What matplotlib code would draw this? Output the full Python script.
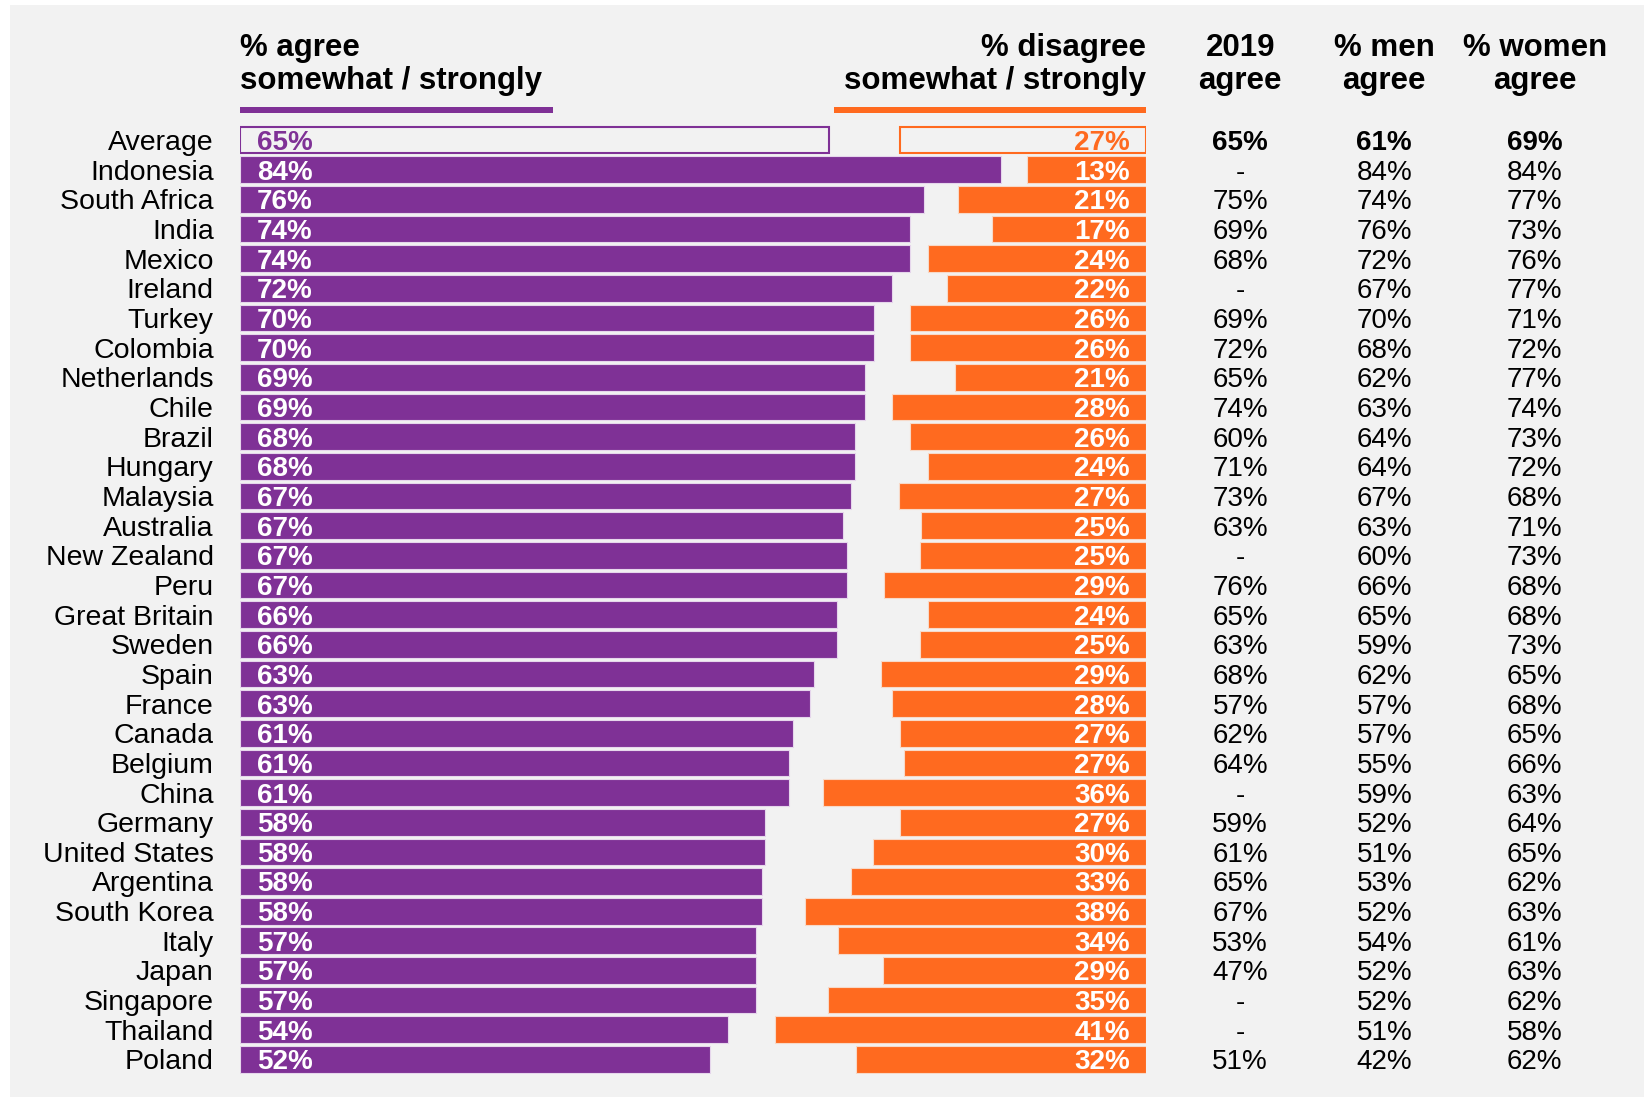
import matplotlib.pyplot as plt
from matplotlib.patches import Rectangle

plt.rcParams['font.family'] = ['Liberation Sans', 'DejaVu Sans']

countries = ["Average", "Indonesia", "South Africa", "India", "Mexico", "Ireland", "Turkey",
             "Colombia", "Netherlands", "Chile", "Brazil", "Hungary", "Malaysia", "Australia",
             "New Zealand", "Peru", "Great Britain", "Sweden", "Spain", "France", "Canada",
             "Belgium", "China", "Germany", "United States", "Argentina", "South Korea", "Italy",
             "Japan", "Singapore", "Thailand", "Poland"]

# bar lengths, labels are the rounded values
agree = [65.0, 84.0, 75.5, 73.9, 73.9, 72.0, 70.0, 70.0, 69.0, 69.0, 67.9, 67.9, 67.4, 66.6,
         67.0, 67.0, 65.9, 65.9, 63.4, 62.9, 61.0, 60.6, 60.6, 58.0, 58.0, 57.6, 57.6, 56.9,
         56.9, 56.9, 53.9, 51.9]
disagree = [27.1, 13.1, 20.8, 17.0, 24.1, 22.0, 26.0, 26.0, 21.1, 28.0, 26.0, 24.1, 27.3, 24.8,
            25.0, 28.9, 24.1, 25.0, 29.3, 28.0, 27.1, 26.7, 35.6, 27.1, 30.1, 32.6, 37.6, 34.0,
            29.0, 35.1, 41.0, 32.0]
agree_2019 = ["65%", "-", "75%", "69%", "68%", "-", "69%", "72%", "65%", "74%", "60%", "71%",
              "73%", "63%", "-", "76%", "65%", "63%", "68%", "57%", "62%", "64%", "-", "59%",
              "61%", "65%", "67%", "53%", "47%", "-", "-", "51%"]
men_agree = ["61%", "84%", "74%", "76%", "72%", "67%", "70%", "68%", "62%", "63%", "64%", "64%",
             "67%", "63%", "60%", "66%", "65%", "59%", "62%", "57%", "57%", "55%", "59%", "52%",
             "51%", "53%", "52%", "54%", "52%", "52%", "51%", "42%"]
women_agree = ["69%", "84%", "77%", "73%", "76%", "77%", "71%", "72%", "77%", "74%", "73%", "72%",
               "68%", "71%", "73%", "68%", "68%", "73%", "65%", "68%", "65%", "66%", "63%", "64%",
               "65%", "62%", "63%", "61%", "63%", "62%", "58%", "62%"]

PURPLE = '#7f3196'
ORANGE = '#ff6a1f'
BG = '#f2f2f2'

fig = plt.figure(figsize=(16.44, 10.97), dpi=100)
fig.patch.set_facecolor('white')
fig.patches.append(Rectangle((10 / 1644, 0), 1, 1 - 5 / 1097, transform=fig.transFigure,
                             facecolor=BG, edgecolor='none', zorder=-5))

ax = fig.add_axes([240 / 1644, 1 - 1074.3 / 1097, 906 / 1644, (1074.3 - 125.2) / 1097])
ax.set_facecolor('none')
ax.set_xlim(0, 100)
ax.set_ylim(len(countries) - 0.5, -0.5)
ax.axis('off')

h = 0.9
dy = 0.1  # text sits a touch lower than the bar centre
for i, (name, a, d) in enumerate(zip(countries, agree, disagree)):
    if i == 0:
        ax.barh(i, a, height=h, color=BG, edgecolor=PURPLE, linewidth=1.5)
        ax.barh(i, d, left=100 - d, height=h, color=BG, edgecolor=ORANGE, linewidth=1.5)
        ca, cd = PURPLE, ORANGE
        wt = 'bold'
    else:
        ax.barh(i, a, height=h, color=PURPLE, edgecolor='#e6d6ec', linewidth=0.8)
        ax.barh(i, d, left=100 - d, height=h, color=ORANGE, edgecolor='#f7d9c8', linewidth=0.8)
        ca, cd = 'white', 'white'
        wt = 'normal'
    ty = i + dy
    ax.text(1.9, ty, f"{round(a)}%", color=ca, fontsize=20, fontweight='bold', va='center', ha='left')
    ax.text(98.2, ty, f"{round(d)}%", color=cd, fontsize=20, fontweight='bold', va='center', ha='right')
    ax.text(-2.9, ty, name, fontsize=20.5, va='center', ha='right', clip_on=False)
    ax.text(110.4, ty, agree_2019[i], fontsize=20, fontweight=wt, va='center', ha='center', clip_on=False)
    ax.text(126.3, ty, men_agree[i], fontsize=20, fontweight=wt, va='center', ha='center', clip_on=False)
    ax.text(142.9, ty, women_agree[i], fontsize=20, fontweight=wt, va='center', ha='center', clip_on=False)

# headers
hy = -2.55
hdr = dict(fontsize=22.5, fontweight='bold', va='center', linespacing=1.12, clip_on=False)
ax.text(0, hy, "% agree\nsomewhat / strongly", ha='left', **hdr)
ax.text(100, hy, "% disagree\nsomewhat / strongly", ha='right', multialignment='right', **hdr)
ax.text(110.4, hy, "2019\nagree", ha='center', multialignment='center', **hdr)
ax.text(126.3, hy, "% men\nagree", ha='center', multialignment='center', **hdr)
ax.text(142.9, hy, "% women\nagree", ha='center', multialignment='center', **hdr)
ax.barh(-1.01, 34.5, height=0.23, color=PURPLE, clip_on=False)
ax.barh(-1.01, 34.4, left=65.6, height=0.23, color=ORANGE, clip_on=False)

fig.savefig('out.png', dpi=100)
